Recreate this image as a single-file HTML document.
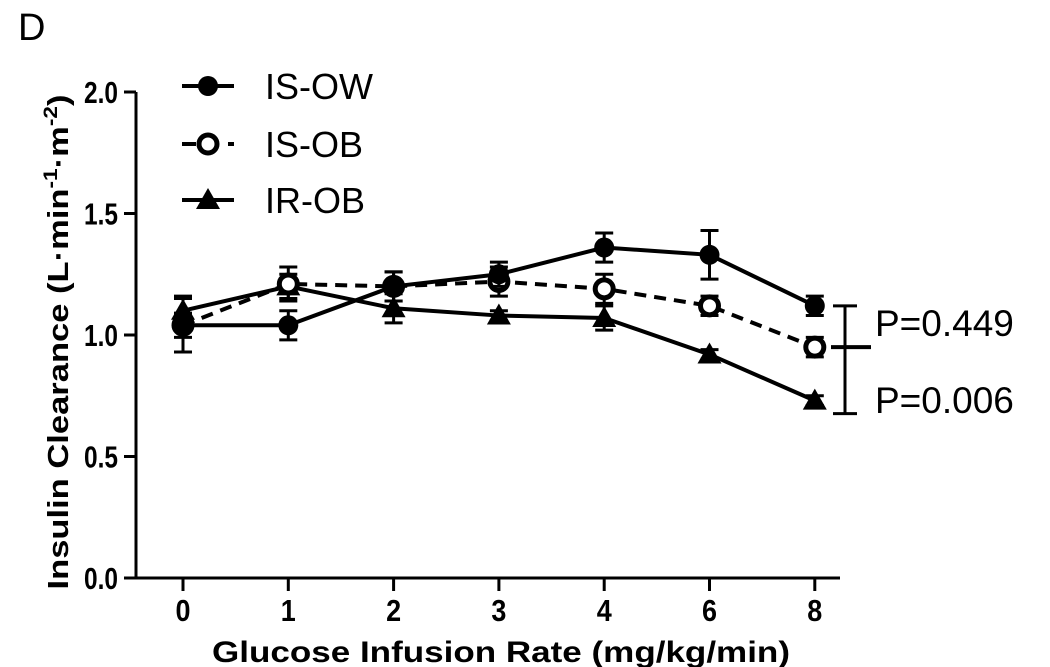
<!DOCTYPE html>
<html><head><meta charset="utf-8"><style>
body{margin:0;background:#fff;}
svg{display:block;font-family:"Liberation Sans",Arial,sans-serif;}
</style></head><body>
<svg id="chart" width="1050" height="667" viewBox="0 0 1050 667">
<text x="18" y="40" font-size="38">D</text>
<g id="axes"></g>
<g id="series"></g>
<g id="legend"></g>
</svg>
<script>
const categories = ["0","1","2","3","4","6","8"];
const yTicks = [0.0,0.5,1.0,1.5,2.0];
const yTickLabels = ["0.0","0.5","1.0","1.5","2.0"];
const isowMean = [1.04,1.04,1.20,1.25,1.36,1.33,1.12];
const isowErr  = [0.11,0.06,0.06,0.05,0.06,0.10,0.04];
const isobMean = [1.04,1.21,1.20,1.22,1.19,1.12,0.95];
const isobErr  = [0.05,0.07,0.06,0.06,0.06,0.04,0.04];
const irobMean = [1.10,1.20,1.11,1.08,1.07,0.92,0.73];
const irobErr  = [0.06,0.05,0.06,0.02,0.05,0.02,0.02];
const pLabels = ["P=0.449","P=0.006"];

const NS="http://www.w3.org/2000/svg";
const X0=136, X1=840, Y0=578, PX=243;
const xPos=i=>183+i*105.3;
const yPos=v=>Y0-v*PX;
function el(tag,attrs,parent){const e=document.createElementNS(NS,tag);for(const k in attrs)e.setAttribute(k,attrs[k]);parent.appendChild(e);return e;}
const axes=document.getElementById('axes'), series=document.getElementById('series'), legend=document.getElementById('legend');

let a=el('line',{x1:X0,y1:yPos(2),x2:X0,y2:Y0,stroke:'#000','stroke-width':3},axes);


a=el('line',{x1:X0-1,y1:Y0,x2:X1,y2:Y0,stroke:'#000','stroke-width':3},axes);


yTicks.forEach((v,i)=>{
  el('line',{x1:X0-12,y1:yPos(v),x2:X0,y2:yPos(v),stroke:'#000','stroke-width':3},axes);
  const t=el('text',{x:X0-18,y:yPos(v)+11,'font-size':31,'font-weight':'bold','text-anchor':'end',textLength:34,lengthAdjust:'spacingAndGlyphs'},axes);
  t.textContent=yTickLabels[i];
  
  
});
categories.forEach((c,i)=>{
  el('line',{x1:xPos(i),y1:Y0,x2:xPos(i),y2:Y0+13,stroke:'#000','stroke-width':3},axes);
  const t=el('text',{x:xPos(i),y:Y0+43,'font-size':31,'font-weight':'bold','text-anchor':'middle',textLength:15,lengthAdjust:'spacingAndGlyphs'},axes);
  t.textContent=c;
  
  
});
let t=el('text',{x:501,y:662,'font-size':30,'font-weight':'bold','text-anchor':'middle',textLength:578,lengthAdjust:'spacingAndGlyphs'},axes);
t.textContent='Glucose Infusion Rate (mg/kg/min)';


t=el('text',{transform:'translate(68,342) rotate(-90)','font-size':29,'font-weight':'bold','text-anchor':'middle',textLength:495,lengthAdjust:'spacingAndGlyphs'},axes);
t.innerHTML='Insulin Clearance  (L·min<tspan dy="-11" font-size="19">-1</tspan><tspan dy="11">·m</tspan><tspan dy="-11" font-size="19">-2</tspan><tspan dy="11">)</tspan>';



function marker(g,type,x,y){
  if(type==='filled') el('circle',{cx:x,cy:y,r:10,fill:'#000'},g);
  else if(type==='open') el('circle',{cx:x,cy:y,r:9,fill:'#fff',stroke:'#000','stroke-width':5},g);
  else el('polygon',{points:`${x},${y-12} ${x+12},${y+9} ${x-12},${y+9}`,fill:'#000'},g);
}
function drawSeries(name,mean,err,type,dash){
  const g=el('g',{},series);
  
  
  const pts=mean.map((v,i)=>xPos(i)+','+yPos(v)).join(' ');
  el('polyline',{points:pts,fill:'none',stroke:'#000','stroke-width':4,'stroke-dasharray':dash||'none'},g);
  mean.forEach((v,i)=>{
    const x=xPos(i),yt=yPos(v+err[i]),yb=yPos(v-err[i]);
    el('line',{x1:x,y1:yt,x2:x,y2:yb,stroke:'#000','stroke-width':3},g);
    el('line',{x1:x-9,y1:yt,x2:x+9,y2:yt,stroke:'#000','stroke-width':3},g);
    el('line',{x1:x-9,y1:yb,x2:x+9,y2:yb,stroke:'#000','stroke-width':3},g);
  });
  mean.forEach((v,i)=>{
    const m=el('g',{},g);
    
    
    marker(m,type,xPos(i),yPos(v));
  });
}
drawSeries('ir-ob',irobMean,irobErr,'tri');
drawSeries('is-ob',isobMean,isobErr,'open','12,8');
drawSeries('is-ow',isowMean,isowErr,'filled');

const bx=845, last=categories.length-1;
const bTop=yPos(isowMean[last]), bMid=yPos(isobMean[last]), bBot=yPos(irobMean[last])+13;
const br=el('g',{},series);


el('line',{x1:bx,y1:bTop,x2:bx,y2:bBot,stroke:'#000','stroke-width':3},br);
el('line',{x1:bx-12,y1:bTop,x2:bx+12,y2:bTop,stroke:'#000','stroke-width':3},br);
el('line',{x1:bx-12,y1:bBot,x2:bx+12,y2:bBot,stroke:'#000','stroke-width':3},br);
el('line',{x1:bx-14,y1:bMid,x2:bx+26,y2:bMid,stroke:'#000','stroke-width':4},br);
t=el('text',{x:875,y:336,'font-size':37},series);
t.textContent=pLabels[0];


t=el('text',{x:875,y:413,'font-size':37},series);
t.textContent=pLabels[1];



const legNames=['IS-OW','IS-OB','IR-OB'], legTypes=['filled','open','tri'], legY=[86,144,200];
legNames.forEach((n,i)=>{
  const g=el('g',{},legend);
  
  
  if(legTypes[i]==='open'){
    el('line',{x1:182,y1:legY[i],x2:196,y2:legY[i],stroke:'#000','stroke-width':4},g);
    el('line',{x1:228,y1:legY[i],x2:234,y2:legY[i],stroke:'#000','stroke-width':4},g);
  } else el('line',{x1:182,y1:legY[i],x2:234,y2:legY[i],stroke:'#000','stroke-width':4},g);
  marker(g,legTypes[i],208,legY[i]);
  const tx=el('text',{x:265,y:legY[i]+13,'font-size':36},g);
  tx.textContent=n;
});
</script>
</body></html>
